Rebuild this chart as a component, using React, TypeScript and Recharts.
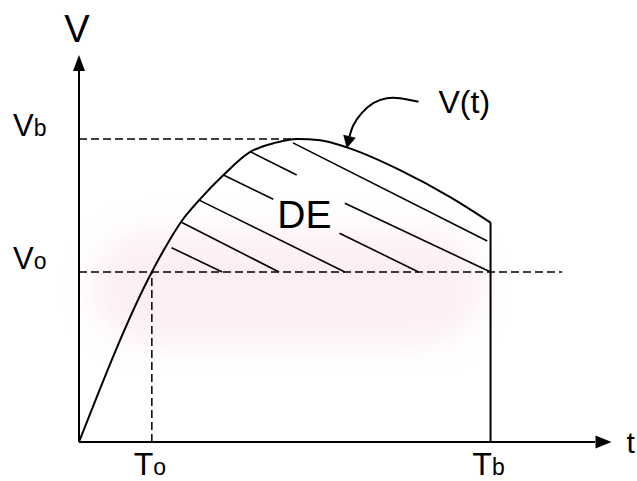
import React from 'react';
import { LineChart, Line, XAxis, YAxis, ReferenceLine, ReferenceDot, ReferenceArea } from 'recharts';

// Characteristic times and voltages
const T0 = 1.77;
const TB = 10;
const V0 = 5.61;
const VB = 10;

// V(t): rise from the origin, peak at Vb, fall until Tb
const curveT = [0, 1.77, 2.2, 2.5, 2.92, 3.51, 4.16, 4.76, 5.3, 5.86, 6.51, 7.8, 9.02, 10];
const curveV = [0, 5.61, 6.66, 7.3, 7.98, 8.81, 9.57, 9.87, 10, 9.96, 9.72, 8.97, 8.08, 7.24];

// Hatching of the DE area (start and end of each stroke)
const hatchStartT = [2.25, 2.5, 2.92, 3.51, 4.16, 5.2, 6.46, 6.33];
const hatchStartV = [6.41, 7.24, 7.98, 8.81, 9.58, 9.87, 7.88, 6.89];
const hatchEndT = [3.48, 4.86, 6.46, 4.72, 5.29, 9.92, 10, 8.25];
const hatchEndV = [5.61, 5.61, 5.61, 8.01, 8.81, 6.63, 5.61, 5.61];

// Curved pointer for the V(t) label
const pointerT = [6.57, 6.67, 6.87, 7.15, 7.48, 7.8, 8.25];
const pointerV = [10.07, 10.46, 10.85, 11.18, 11.34, 11.34, 11.23];
const pointerTipT = 6.506;
const pointerTipV = 9.69;

// Axis extents
const X_MAX = 13;
const Y_MAX = 13;
const X_ARROW_BASE = 12.54;
const X_ARROW_TIP = 12.94;
const Y_ARROW_BASE = 12.24;
const Y_ARROW_TIP = 12.77;
const VO_LINE_END = 11.74;

// Label position of the shaded area
const DE_T = 4.82;
const DE_V = 7.06;

const curveData = curveT.map((t, i) => ({ t, v: curveV[i] }));
const pointerData = pointerT.map((t, i) => ({ t, v: pointerV[i] }));
const hatches = hatchStartT.map((t, i) => [
  { x: t, y: hatchStartV[i] },
  { x: hatchEndT[i], y: hatchEndV[i] },
]);

const FONT = '"Liberation Sans", Arial, sans-serif';
const INK = '#000';

const YTick = (props: any) => {
  const { y, payload } = props;
  const sub = payload.value === V0 ? 'o' : 'b';
  return (
    <text x={13} y={y - 3} fontFamily={FONT} fill={INK} textAnchor="start">
      <tspan fontSize={31}>V</tspan>
      <tspan fontSize={23}>{sub}</tspan>
    </text>
  );
};

const XTick = (props: any) => {
  const { x, y, payload } = props;
  const sub = payload.value === T0 ? 'o' : 'b';
  return (
    <text x={x - 2} y={y + 33} fontFamily={FONT} fill={INK} textAnchor="middle">
      <tspan fontSize={32}>T</tspan>
      <tspan fontSize={23}>{sub}</tspan>
    </text>
  );
};

// Faint pink band behind the lower part of the drawing
const Watermark = (props: any) => {
  const { x, y, width, height } = props;
  return (
    <g>
      <defs>
        <filter id="soft" x="-30%" y="-60%" width="160%" height="220%">
          <feGaussianBlur stdDeviation="14" />
        </filter>
      </defs>
      <rect
        x={x}
        y={y}
        width={width}
        height={height}
        rx={height / 2}
        fill="#fbe6ed"
        opacity={0.6}
        filter="url(#soft)"
      />
    </g>
  );
};

export default function App() {
  return (
    <div style={{ position: 'absolute', left: 0, top: 0, background: '#fff' }}>
      <LineChart width={637} height={481} margin={{ top: 48, right: 23, left: 0, bottom: 0 }}>
        <XAxis
          type="number"
          dataKey="t"
          domain={[0, X_MAX]}
          ticks={[T0, TB]}
          height={39}
          axisLine={false}
          tickLine={false}
          tickSize={0}
          tickMargin={0}
          tick={<XTick />}
          allowDataOverflow
        />
        <YAxis
          type="number"
          domain={[0, Y_MAX]}
          ticks={[V0, VB]}
          width={79}
          axisLine={false}
          tickLine={false}
          tickSize={0}
          tickMargin={0}
          tick={<YTick />}
          allowDataOverflow
        />

        <ReferenceArea x1={0.3} x2={9.8} y1={3.2} y2={7.0} shape={<Watermark />} ifOverflow="visible" />

        {/* reference levels */}
        <ReferenceLine segment={[{ x: 0, y: VB }, { x: 5.3, y: VB }]} stroke={INK} strokeWidth={1.5} strokeDasharray="8 4" />
        <ReferenceLine segment={[{ x: 0, y: V0 }, { x: VO_LINE_END, y: V0 }]} stroke={INK} strokeWidth={1.5} strokeDasharray="8 4" />
        <ReferenceLine segment={[{ x: T0, y: 0 }, { x: T0, y: V0 }]} stroke={INK} strokeWidth={1.5} strokeDasharray="8 4" />

        {/* hatching */}
        {hatches.map((seg, i) => (
          <ReferenceLine key={i} segment={seg} stroke={INK} strokeWidth={1.6} />
        ))}

        {/* end of the pulse at Tb */}
        <ReferenceLine segment={[{ x: TB, y: 0 }, { x: TB, y: curveV[curveV.length - 1] }]} stroke={INK} strokeWidth={2} />

        {/* axes */}
        <ReferenceLine segment={[{ x: 0, y: 0 }, { x: X_ARROW_BASE, y: 0 }]} stroke={INK} strokeWidth={2} />
        <ReferenceLine segment={[{ x: 0, y: 0 }, { x: 0, y: Y_ARROW_BASE }]} stroke={INK} strokeWidth={2} />

        <Line
          data={curveData}
          dataKey="v"
          type="monotone"
          stroke={INK}
          strokeWidth={2}
          dot={false}
          activeDot={false}
          isAnimationActive={false}
        />
        <Line
          data={pointerData}
          dataKey="v"
          type="natural"
          stroke={INK}
          strokeWidth={2}
          dot={false}
          activeDot={false}
          isAnimationActive={false}
        />

        {/* arrow heads */}
        <ReferenceDot
          x={0}
          y={Y_ARROW_TIP}
          ifOverflow="visible"
          shape={(p: any) => (
            <polygon points={`${p.cx},${p.cy} ${p.cx - 6},${p.cy + 16} ${p.cx + 6},${p.cy + 16}`} fill={INK} />
          )}
        />
        <ReferenceDot
          x={X_ARROW_TIP}
          y={0}
          ifOverflow="visible"
          shape={(p: any) => (
            <polygon points={`${p.cx},${p.cy} ${p.cx - 16},${p.cy - 6.5} ${p.cx - 16},${p.cy + 6.5}`} fill={INK} />
          )}
        />
        <ReferenceDot
          x={pointerTipT}
          y={pointerTipV}
          ifOverflow="visible"
          shape={(p: any) => (
            <polygon
              points={`${p.cx},${p.cy} ${p.cx + 9.1},${p.cy - 10.5} ${p.cx - 3.5},${p.cy - 13.5}`}
              fill={INK}
            />
          )}
        />

        {/* text labels */}
        <ReferenceDot
          x={0}
          y={Y_ARROW_TIP}
          ifOverflow="visible"
          shape={(p: any) => (
            <text x={p.cx - 2} y={p.cy - 13} fontFamily={FONT} fontSize={38} fill={INK} textAnchor="middle">
              V
            </text>
          )}
        />
        <ReferenceDot
          x={X_ARROW_TIP}
          y={0}
          ifOverflow="visible"
          shape={(p: any) => (
            <text x={p.cx + 15} y={p.cy + 11} fontFamily={FONT} fontSize={30} fill={INK} textAnchor="start">
              t
            </text>
          )}
        />
        <ReferenceDot
          x={pointerT[pointerT.length - 1]}
          y={pointerV[pointerV.length - 1]}
          ifOverflow="visible"
          shape={(p: any) => (
            <text x={p.cx + 20} y={p.cy + 11.5} fontFamily={FONT} fontSize={32} fill={INK} textAnchor="start">
              V(t)
            </text>
          )}
        />
        <ReferenceDot
          x={DE_T}
          y={DE_V}
          ifOverflow="visible"
          shape={(p: any) => (
            <text x={p.cx} y={p.cy} fontFamily={FONT} fontSize={39} fill={INK} textAnchor="start">
              DE
            </text>
          )}
        />
      </LineChart>
    </div>
  );
}
